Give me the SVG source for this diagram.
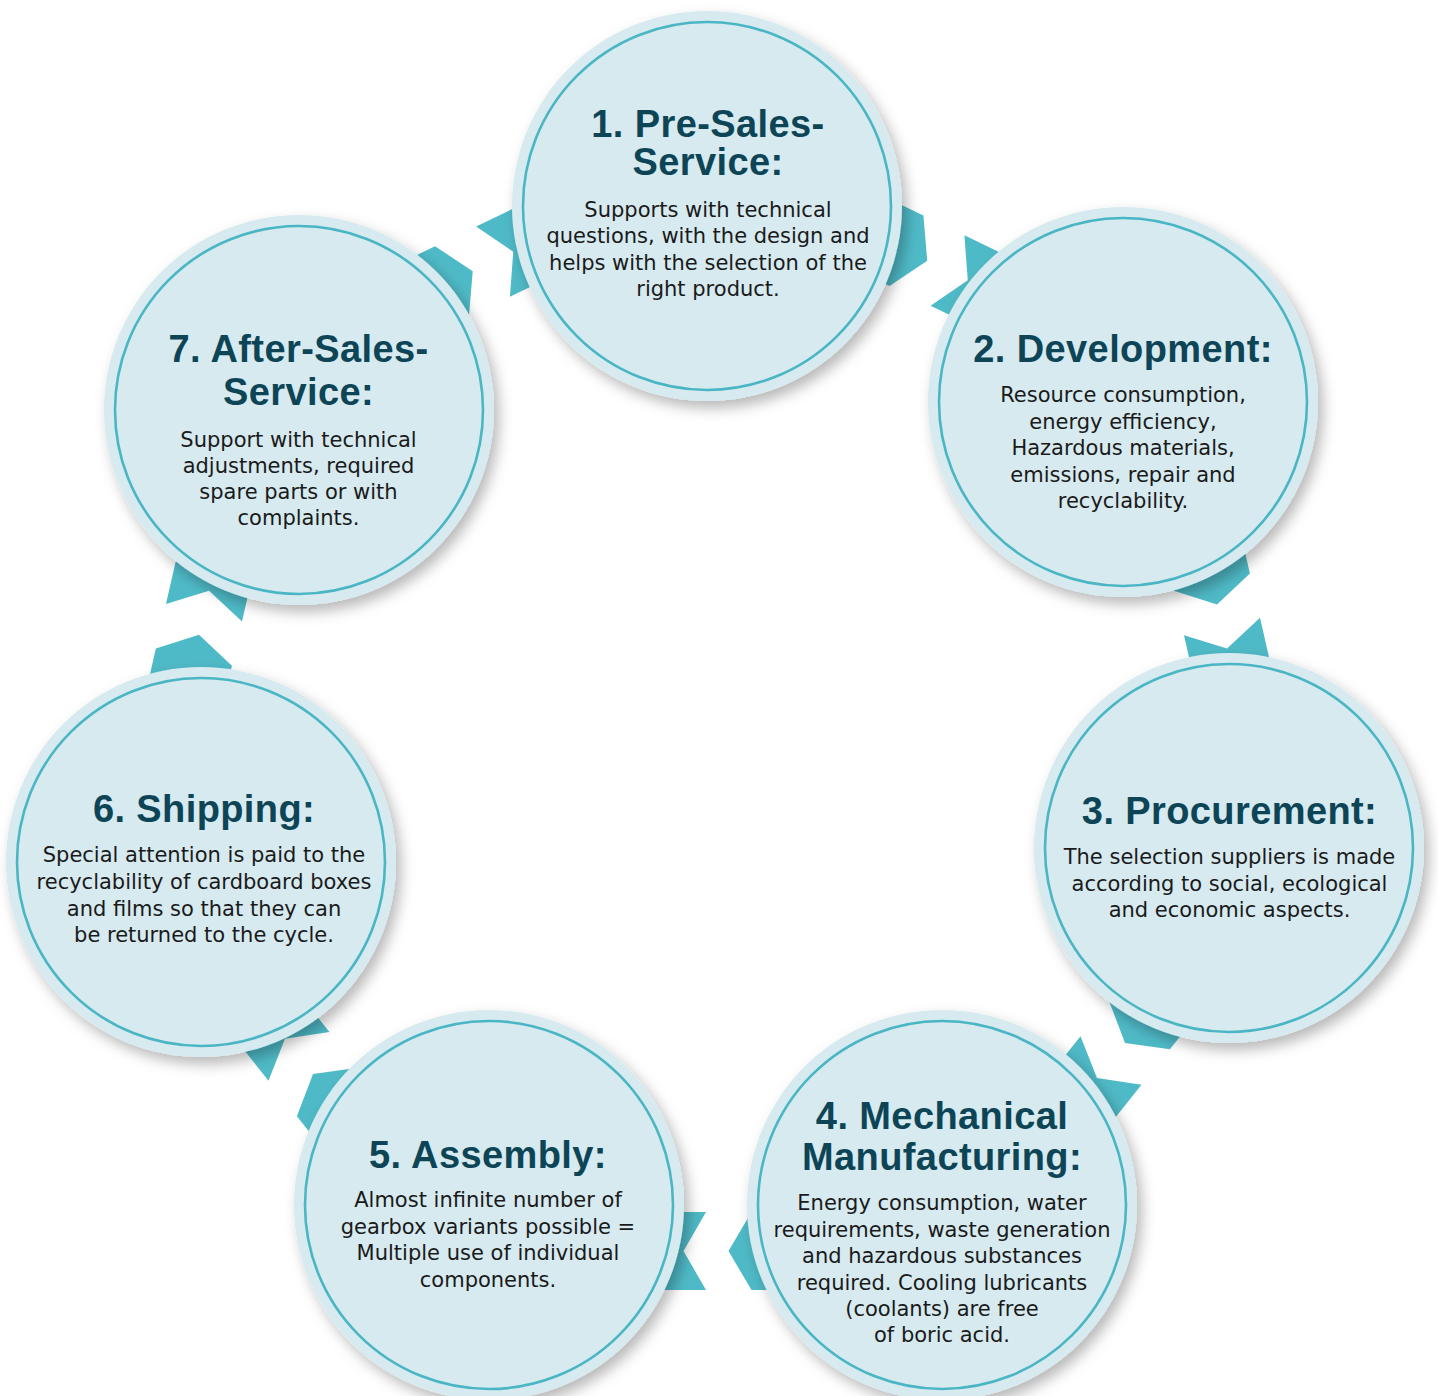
<svg xmlns="http://www.w3.org/2000/svg" xmlns:xlink="http://www.w3.org/1999/xlink" width="1438" height="1396" viewBox="0 0 1438 1396">
  <defs>
    <style>
      .disc { fill: #d6eaf0; filter: url(#shadow); }
      .ring { fill: none; stroke: #4ab6c4; stroke-width: 2.6; }
      .ribbon { fill: #4fbac7; }
      .title { font-family: "Liberation Sans", Arial, sans-serif; font-weight: bold; font-size: 38px; fill: #0d4557; text-anchor: middle; letter-spacing: 0.4px; }
      .body { font-family: "DejaVu Sans", "Liberation Sans", sans-serif; font-size: 21px; fill: #1a1a1a; text-anchor: middle; }
    </style>
    <filter id="shadow" x="-20%" y="-20%" width="145%" height="145%">
      <feDropShadow dx="5" dy="7" stdDeviation="7" flood-color="#000" flood-opacity="0.28"/>
    </filter>
    <!-- chevron pieces in a local frame: x runs along the flow, y points toward the ring centre -->
    <polygon id="head" points="-130,-39 -45.5,-39 -22.5,0 -45.5,39 -130,39"/>
    <polygon id="tail" points="130,-39 0,-39 22.5,0 0,39 130,39"/>
  </defs>

  <rect width="1438" height="1396" fill="#ffffff"/>

  <g id="connectors" class="ribbon">
    <g id="c1-2" transform="translate(947.5 270.5) rotate(25.71)"><use href="#head"/><use href="#tail"/></g>
    <g id="c2-3" transform="translate(1222 626.5) rotate(77.14)"><use href="#head"/><use href="#tail"/></g>
    <g id="c3-4" transform="translate(1111 1060.5) rotate(128.57)"><use href="#head"/><use href="#tail"/></g>
    <g id="c4-5" transform="translate(706 1251) rotate(180)"><use href="#head"/><use href="#tail"/></g>
    <g id="c5-6" transform="translate(299 1056.4) rotate(231.43)"><use href="#head"/><use href="#tail"/></g>
    <g id="c6-7" transform="translate(204 612.8) rotate(282.86)"><use href="#head"/><use href="#tail"/></g>
    <g id="c7-1" transform="translate(493 261.6) rotate(334.29)"><use href="#head"/><use href="#tail"/></g>
  </g>

  <g id="node1">
    <circle class="disc" cx="707" cy="206" r="195"/>
    <circle class="ring" cx="707" cy="206" r="184"/>
    <text class="title" x="708" y="137">1. Pre-Sales-</text>
    <text class="title" x="708" y="175">Service:</text>
    <text class="body" x="708" y="217">Supports with technical</text>
    <text class="body" x="708" y="243">questions, with the design and</text>
    <text class="body" x="708" y="270">helps with the selection of the</text>
    <text class="body" x="708" y="296">right product.</text>
  </g>

  <g id="node2">
    <circle class="disc" cx="1123" cy="402" r="195"/>
    <circle class="ring" cx="1123" cy="402" r="184"/>
    <text class="title" x="1123" y="362">2. Development:</text>
    <text class="body" x="1123" y="402">Resource consumption,</text>
    <text class="body" x="1123" y="428.5">energy efficiency,</text>
    <text class="body" x="1123" y="455">Hazardous materials,</text>
    <text class="body" x="1123" y="481.5">emissions, repair and</text>
    <text class="body" x="1123" y="508">recyclability.</text>
  </g>

  <g id="node3">
    <circle class="disc" cx="1229" cy="848" r="195"/>
    <circle class="ring" cx="1229" cy="848" r="184"/>
    <text class="title" x="1229.5" y="824">3. Procurement:</text>
    <text class="body" x="1229.5" y="864">The selection suppliers is made</text>
    <text class="body" x="1229.5" y="891">according to social, ecological</text>
    <text class="body" x="1229.5" y="917">and economic aspects.</text>
  </g>

  <g id="node4">
    <circle class="disc" cx="942" cy="1205" r="195"/>
    <circle class="ring" cx="942" cy="1205" r="184"/>
    <text class="title" x="942" y="1129">4. Mechanical</text>
    <text class="title" x="942" y="1170">Manufacturing:</text>
    <text class="body" x="942" y="1210">Energy consumption, water</text>
    <text class="body" x="942" y="1236.5">requirements, waste generation</text>
    <text class="body" x="942" y="1263">and hazardous substances</text>
    <text class="body" x="942" y="1289.5">required. Cooling lubricants</text>
    <text class="body" x="942" y="1316">(coolants) are free</text>
    <text class="body" x="942" y="1342">of boric acid.</text>
  </g>

  <g id="node5">
    <circle class="disc" cx="489" cy="1205" r="195"/>
    <circle class="ring" cx="489" cy="1205" r="184"/>
    <text class="title" x="488" y="1168">5. Assembly:</text>
    <text class="body" x="488" y="1207">Almost infinite number of</text>
    <text class="body" x="488" y="1234">gearbox variants possible =</text>
    <text class="body" x="488" y="1260">Multiple use of individual</text>
    <text class="body" x="488" y="1287">components.</text>
  </g>

  <g id="node6">
    <circle class="disc" cx="201" cy="862" r="195"/>
    <circle class="ring" cx="201" cy="862" r="184"/>
    <text class="title" x="204" y="822">6. Shipping:</text>
    <text class="body" x="204" y="862">Special attention is paid to the</text>
    <text class="body" x="204" y="889">recyclability of cardboard boxes</text>
    <text class="body" x="204" y="916">and films so that they can</text>
    <text class="body" x="204" y="942">be returned to the cycle.</text>
  </g>

  <g id="node7">
    <circle class="disc" cx="299" cy="410" r="195"/>
    <circle class="ring" cx="299" cy="410" r="184"/>
    <text class="title" x="298.5" y="362">7. After-Sales-</text>
    <text class="title" x="298.5" y="405">Service:</text>
    <text class="body" x="298.5" y="447">Support with technical</text>
    <text class="body" x="298.5" y="473">adjustments, required</text>
    <text class="body" x="298.5" y="499">spare parts or with</text>
    <text class="body" x="298.5" y="525">complaints.</text>
  </g>
</svg>
